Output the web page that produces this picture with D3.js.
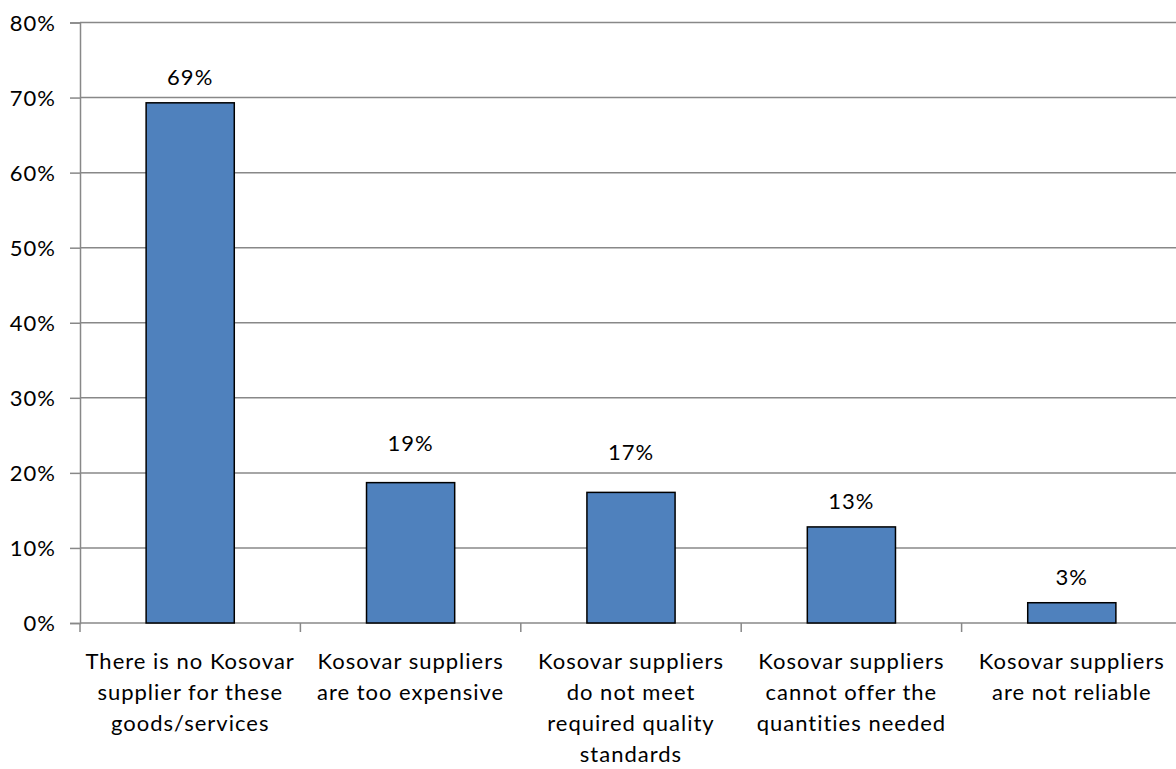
<!DOCTYPE html>
<html>
<head>
<meta charset="utf-8">
<script src="https://cdn.jsdelivr.net/npm/d3@7"></script>
<style>
  html, body { margin: 0; padding: 0; background: #fff; }
  svg { display: block; }
  text { font-family: Lato, "Open Sans", sans-serif; fill: #000; letter-spacing: 1px; }
</style>
</head>
<body>
<svg id="chart" width="1176" height="769"></svg>
<script>
// Reasons for buying from foreign suppliers (share of respondents)
const categories = [
  "There is no Kosovar supplier for these goods/services",
  "Kosovar suppliers are too expensive",
  "Kosovar suppliers do not meet required quality standards",
  "Kosovar suppliers cannot offer the quantities needed",
  "Kosovar suppliers are not reliable"
];
const categoryLines = [
  ["There is no Kosovar", "supplier for these", "goods/services"],
  ["Kosovar suppliers", "are too expensive"],
  ["Kosovar suppliers", "do not meet", "required quality", "standards"],
  ["Kosovar suppliers", "cannot offer the", "quantities needed"],
  ["Kosovar suppliers", "are not reliable"]
];
const shares = [0.693, 0.187, 0.174, 0.128, 0.027];
const yTicks = [0, 0.1, 0.2, 0.3, 0.4, 0.5, 0.6, 0.7, 0.8];

const svg = d3.select("#chart");
const margin = { left: 80, top: 22.5, bottom: 146 };
const plotW = 1102;
const plotH = 769 - margin.top - margin.bottom;
const fontSize = "22px";

const x = d3.scaleBand().domain(categories).range([0, plotW]).paddingInner(0.6).paddingOuter(0.3);
const y = d3.scaleLinear().domain([0, 0.8]).range([plotH, 0]);
const pct = d3.format(".0%");

const g = svg.append("g").attr("transform", `translate(${margin.left},${margin.top})`);

// horizontal gridlines
g.append("g").selectAll("line").data(yTicks.filter(t => t > 0)).join("line")
  .attr("x1", 0).attr("x2", plotW)
  .attr("y1", d => y(d)).attr("y2", d => y(d))
  .attr("stroke", "#888").attr("stroke-width", 1.5);

// y axis
const yAxis = g.append("g")
  .call(d3.axisLeft(y).tickValues(yTicks).tickFormat(pct).tickSize(10).tickPadding(14));
yAxis.select(".domain").attr("stroke", "#888").attr("stroke-width", 1.5);
yAxis.selectAll(".tick line").attr("stroke", "#888").attr("stroke-width", 1.5);
yAxis.selectAll(".tick text").style("font-size", fontSize).attr("dy", "0.35em")
  .style("font-family", "Lato, sans-serif").attr("fill", "#000");

// x axis line with category boundary ticks
g.append("line").attr("x1", 0).attr("x2", plotW).attr("y1", plotH).attr("y2", plotH)
  .attr("stroke", "#888").attr("stroke-width", 1.5);
const step = x.step();
const boundaries = d3.range(categories.length + 1).map(i => i * step);
g.append("g").selectAll("line").data(boundaries).join("line")
  .attr("x1", d => d).attr("x2", d => d)
  .attr("y1", plotH).attr("y2", plotH + 9)
  .attr("stroke", "#888").attr("stroke-width", 1.5);

// bars
g.append("g").selectAll("rect").data(shares).join("rect")
  .attr("x", (d, i) => x(categories[i]))
  .attr("width", x.bandwidth())
  .attr("y", d => y(d))
  .attr("height", d => plotH - y(d))
  .attr("fill", "#4F81BD")
  .attr("stroke", "#000").attr("stroke-width", 1.5);

// value labels, lifted when they would sit on or just above a gridline
g.append("g").selectAll("text").data(shares).join("text")
  .attr("x", (d, i) => x(categories[i]) + x.bandwidth() / 2)
  .attr("y", d => {
    let base = y(d) - 18;
    const clash = yTicks.some(t => t > 0 && y(t) > base - 16 && y(t) < base + 11);
    if (clash) base -= 14;
    return base;
  })
  .attr("text-anchor", "middle")
  .style("font-size", fontSize)
  .text(d => pct(d));

// category labels
const catG = g.append("g").selectAll("text").data(categoryLines).join("text")
  .attr("text-anchor", "middle")
  .attr("transform", (d, i) => `translate(${x(categories[i]) + x.bandwidth() / 2},${plotH + 46})`)
  .style("font-size", fontSize);
catG.selectAll("tspan").data(d => d).join("tspan")
  .attr("x", 0).attr("dy", (d, i) => i === 0 ? 0 : 31)
  .text(d => d);
</script>
</body>
</html>
